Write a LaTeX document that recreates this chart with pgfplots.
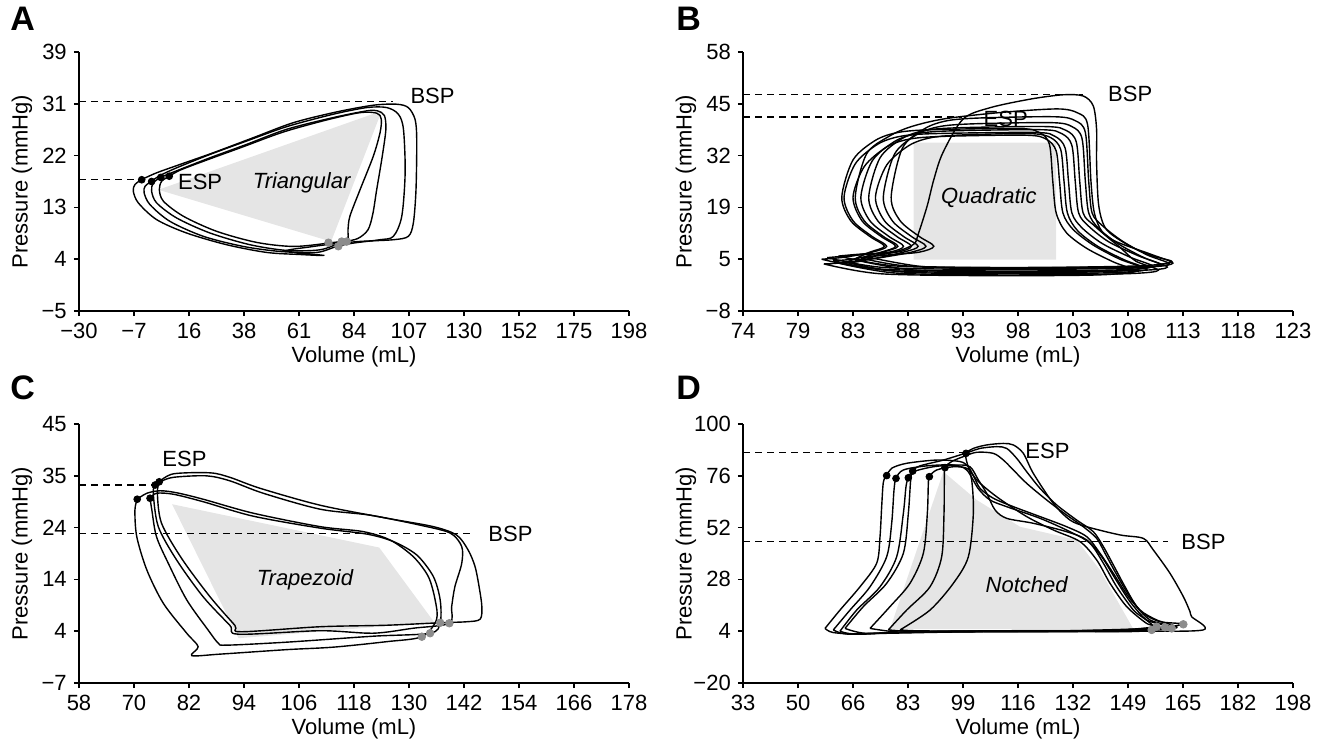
\documentclass[border=0pt]{standalone}
\usepackage{fontspec}
\setmainfont{Liberation Sans}
\usepackage{pgfplots}
\pgfplotsset{compat=1.18}
\newcommand{\lbl}{\fontsize{11}{13}\selectfont}
\pgfplotsset{
  pv/.style={
    width=275pt, height=129.5pt, scale only axis, anchor=south west,
    axis x line*=bottom, axis y line*=left,
    axis line style={-, line width=0.75pt},
    tick align=outside, major tick length=2.6pt,
    tick style={line width=0.75pt, black},
    tick label style={font=\lbl},
    label style={font=\lbl},
    xlabel={Volume (mL)}, ylabel={Pressure (mmHg)},
    xlabel style={at={(axis description cs:0.5,-0.175)}, anchor=center},
    ylabel style={at={(axis description cs:-0.1036,0.5)}, anchor=center},
    clip=false,
  },
  lp/.style={black, line width=0.7pt, smooth, tension=0.5, mark=none},
  dsh/.style={black, line width=0.7pt, dash pattern=on 3.5pt off 2.5pt, mark=none},
  esp/.style={only marks, mark=*, mark size=1.7pt, black},
  edp/.style={only marks, mark=*, mark size=1.9pt, color=black!45, mark options={draw=black!45, fill=black!45}},
  shp/.style={fill=black!10, draw=none, mark=none},
}
\begin{document}
\begin{tikzpicture}
\path[use as bounding box] (0,0) rectangle (665.5pt,370.5pt);

% ---------------- A ----------------
\begin{axis}[pv, at={(39.5pt,215pt)},
  xmin=-30, xmax=198, ymin=-5, ymax=39,
  xtick={-30,-7.2,15.6,38.4,61.2,84,106.8,129.6,152.4,175.2,198},
  xticklabels={−30,−7,16,38,61,84,107,130,152,175,198},
  ytick={-5,3.8,12.6,21.4,30.2,39},
  yticklabels={−5,4,13,22,31,39}]
\addplot[shp] coordinates {(2.9,15.6) (95.5,29.0) (74.5,6.8) (2.9,15.6)};
\addplot[lp] coordinates {(-4.0,17.34) (-6.8,16.49) (-7.5,15.35) (-5.4,13.36) (2.2,10.52) (14.6,8.25) (31.2,6.26) (47.8,4.95) (61.6,4.6) (71.3,4.45) (56,5.2) (66,5.9) (75.4,6.4) (86.5,6.82) (100.3,7.11) (106.5,7.68) (108.6,9.95) (109.7,15.63) (110.0,24.16) (109.3,27.57) (106.5,29.56) (101.7,30.13) (92.0,29.96) (76.8,28.82) (58.9,27.0) (42.3,24.45) (25.7,21.89) (11.9,19.9) (2.2,18.48) (-4.0,17.34)};
\addplot[lp] coordinates {(0.1,17.06) (-2.6,16.2) (-3.0,15.07) (-0.6,13.08) (7.7,10.23) (21.6,7.68) (38.1,5.97) (53.3,5.12) (68.5,4.95) (76.8,5.97) (83.7,6.54) (94.8,7.11) (100.3,7.68) (103.8,11.09) (105.2,18.48) (104.5,25.87) (102.4,28.43) (97.6,29.56) (89.3,29.56) (75.4,28.43) (56.1,26.32) (39.5,23.88) (24.3,21.6) (10.5,19.33) (3.6,18.02) (0.1,17.06)};
\addplot[lp] coordinates {(3.9,17.74) (0.8,16.77) (0.1,15.35) (2.2,13.36) (10.5,10.8) (24.3,8.25) (40.9,6.26) (56.1,5.29) (69.9,5.4) (78.9,6.65) (85.5,7.3) (89.8,8.8) (91.8,11.5) (93.4,15.6) (95.6,21.0) (97.2,25.8) (96.6,28.2) (93.8,29.0) (89.3,29.0) (75.4,27.86) (56.1,25.87) (39.5,23.31) (24.3,21.03) (11.9,19.05) (3.9,17.74)};
\addplot[lp] coordinates {(7.5,17.91) (4.3,17.06) (3.3,15.63) (5.0,13.65) (13.3,11.09) (27.1,8.53) (43.7,6.65) (58.9,5.97) (73.4,6.54) (81.0,7.11) (81.5,8.8) (82.3,11.1) (86.5,15.6) (92.0,21.3) (94.8,25.3) (95.3,27.6) (93.5,28.6) (86.5,28.7) (72.7,27.46) (54.7,25.41) (38.1,22.91) (22.9,20.64) (11.9,18.93) (7.5,17.91)};
\addplot[dsh] coordinates {(-30,30.6) (100.2,30.6)};
\addplot[dsh] coordinates {(-30,17.3) (-4,17.3)};
\addplot[esp] coordinates {(-4.0,17.3) (0.1,17.0) (3.9,17.7) (7.4,17.9)};
\addplot[edp] coordinates {(73.4,6.6) (77.5,6.0) (78.9,6.8) (81.0,6.8)};
\node[font=\lbl, anchor=west] at (axis cs:104.5,31.6) {BSP};
\node[font=\lbl] at (axis cs:20.2,16.9) {ESP};
\node[font=\lbl\itshape] at (axis cs:62.3,16.8) {Triangular};
\end{axis}

% ---------------- B ----------------
\begin{axis}[pv, at={(371.5pt,215pt)},
  xmin=74, xmax=123, ymin=-8, ymax=58,
  xtick={74,78.9,83.8,88.7,93.6,98.5,103.4,108.3,113.2,118.1,123},
  xticklabels={74,79,83,88,93,98,103,108,113,118,123},
  ytick={-8,5.2,18.4,31.6,44.8,58},
  yticklabels={−8,5,19,32,45,58}]
\addplot[shp] coordinates {(89.2,5.1) (101.9,5.1) (101.9,34.9) (89.2,34.9) (89.2,5.1)};
\addplot[lp] coordinates {(81.0,5.2) (86.0,2.7) (96,2.2) (104,2.3) (108.5,2.6) (110.5,3.4) (108.5,5.7) (106.0,9.2) (104.2,13.2) (103.3,17) (103.0,25) (102.7,33.5) (101.8,36.5) (100.0,37.5) (91.0,37.2) (88.0,36.5) (86.0,34.5) (84.0,29.5) (83.0,21) (83.8,15) (85.5,11) (86.8,8.5) (85.5,7) (83.0,5.7) (81.0,5.2)};
\addplot[lp] coordinates {(82.0,4.8) (87.0,2.3) (96,1.8) (104,1.9) (107.5,2.2) (109.5,3.0) (107.5,5.3) (105.2,8.8) (103.4,12.8) (102.5,17) (102.2,25) (101.9,32.8) (101.0,35.8) (99.2,36.8) (91.8,36.5) (88.8,35.8) (86.8,33.8) (84.8,28.8) (83.8,21) (84.6,15) (86.3,11) (87.6,8.5) (86.3,7) (84.0,5.3) (82.0,4.8)};
\addplot[lp] coordinates {(81.5,5.6) (86.5,3.1) (96,2.6) (104,2.7) (109.2,3.0) (111.2,3.8) (109.2,6.1) (106.6,9.6) (104.8,13.6) (103.9,17) (103.6,25) (103.3,34.2) (102.4,37.2) (100.6,38.2) (92.5,37.9) (89.5,37.2) (87.5,35.2) (85.5,30.2) (84.5,21) (85.3,15) (87.0,11) (88.3,8.5) (87.0,7) (83.5,6.1) (81.5,5.6)};
\addplot[lp] coordinates {(82.5,6.0) (87.5,3.5) (96,3.0) (104,3.1) (110.3,3.4) (112.3,4.2) (110.3,6.5) (107.0,10.0) (105.2,14.0) (104.3,17) (104.0,25) (103.7,35.0) (102.8,38.0) (101.0,39.0) (93.2,38.7) (90.2,38.0) (88.2,36.0) (86.2,31.0) (85.2,21) (86.0,15) (87.7,11) (89.0,8.5) (87.7,7) (84.5,6.5) (82.5,6.0)};
\addplot[lp] coordinates {(83.0,4.5) (88.0,2.0) (96,1.5) (104,1.6) (108.0,1.9) (110.0,2.7) (108.0,5.0) (105.6,8.5) (103.8,12.5) (102.9,17) (102.6,25) (102.3,33.2) (101.4,36.2) (99.6,37.2) (93.8,36.9) (90.8,36.2) (88.8,34.2) (86.8,29.2) (85.8,21) (86.6,15) (88.3,11) (89.6,8.5) (88.3,7) (85.0,5.0) (83.0,4.5)};
\addplot[lp] coordinates {(84.0,5.0) (89.0,2.5) (96,2.0) (104,2.1) (109.8,2.4) (111.8,3.2) (109.8,5.5) (107.5,9.0) (105.7,13.0) (104.8,17) (104.5,25) (104.2,36.0) (103.3,39.0) (101.5,40.0) (94.5,39.7) (91.5,39.0) (89.5,37.0) (87.5,32.0) (86.5,21) (87.3,15) (89.0,11) (90.3,8.5) (89.0,7) (86.0,5.5) (84.0,5.0)};
\addplot[lp] coordinates {(85.0,5.8) (90.0,3.3) (96,2.8) (104,2.9) (110.0,3.2) (112.0,4.0) (110.0,6.3) (107.8,9.8) (106.0,13.8) (105.1,17) (104.8,25) (104.5,37.5) (103.6,40.5) (101.8,41.5) (95.2,41.2) (92.2,40.5) (90.2,38.5) (88.2,33.5) (87.2,21) (88.0,15) (89.7,11) (91.0,8.5) (89.7,7) (87.0,6.3) (85.0,5.8)};
\addplot[lp] coordinates {(82.5,4.2) (87.5,1.7) (96,1.2) (104,1.3) (109.0,1.6) (111.0,2.4) (109.0,4.7) (107.6,8.2) (106.0,12.2) (105.3,17) (105.0,25) (104.7,39.5) (103.8,42.5) (102.0,43.5) (97.0,42.6) (92.0,41.0) (89.0,39.0) (87.0,36.5) (85.0,32.0) (84.0,21) (84.8,15) (86.5,11) (87.8,8.5) (86.5,7) (84.5,4.7) (82.5,4.2)};
\addplot[lp] coordinates {(84.5,5.5) (88.5,3.5) (96,3.1) (104,3.2) (110.0,3.6) (112.2,4.6) (110.5,6.0) (108.5,8.5) (106.4,12.7) (105.7,18.7) (105.5,29.8) (105.5,38.3) (105.2,44.3) (104.3,46.8) (102.5,47.1) (99.6,46.0) (96.0,43.8) (93.6,40.9) (91.8,32.3) (91.0,25.5) (90.4,18.7) (89.6,11.5) (89.2,9.0) (87.5,7.0) (84.5,5.5)};
\addplot[lp] coordinates {(81.2,4.0) (86.2,1.5) (96,1.0) (104,1.1) (107.0,1.4) (109.0,2.2) (107.0,4.5) (104.6,8.0) (102.8,12.0) (101.9,17) (101.6,25) (101.3,34.5) (100.4,37.5) (98.6,38.5) (90.8,38.2) (87.8,37.5) (85.8,35.5) (83.8,30.5) (82.8,21) (83.6,15) (85.3,11) (86.6,8.5) (85.3,7) (83.2,4.5) (81.2,4.0)};
\addplot[dsh] coordinates {(74,47.1) (104.3,47.1)};
\addplot[dsh] coordinates {(74,41.45) (93.5,41.45)};
\node[font=\lbl] at (axis cs:108.5,47.3) {BSP};
\node[font=\lbl] at (axis cs:97.4,40.9) {ESP};
\node[font=\lbl\itshape] at (axis cs:95.9,20.8) {Quadratic};
\end{axis}

% ---------------- C ----------------
\begin{axis}[pv, at={(39.5pt,29pt)},
  xmin=58, xmax=178, ymin=-7, ymax=45,
  xtick={58,70,82,94,106,118,130,142,154,166,178},
  xticklabels={58,70,82,94,106,118,130,142,154,166,178},
  ytick={-7,3.4,13.8,24.2,34.6,45},
  yticklabels={−7,4,14,24,35,45}]
\addplot[shp] coordinates {(78.3,28.9) (123.5,20.2) (135.5,5.2) (92.8,2.0) (78.3,28.9)};
\addplot[lp] coordinates {(75.5,33.4) (75.1,31.1) (76.0,25.1) (80.4,18.0) (86.6,10.3) (92.0,4.6) (93.3,3.3) (110.6,4.3) (125.1,4.6) (136.8,5.1) (142.6,5.3) (145.5,5.8) (145.9,8.3) (145.3,12.3) (144.4,16.4) (142.9,19.7) (140.4,22.7) (135.3,24.4) (125.1,26.1) (110.6,28.7) (97.5,32.1) (90.9,34.3) (86.6,35.2) (78.6,35.0) (75.5,33.4)};
\addplot[lp] coordinates {(74.6,32.75) (74.2,31.1) (75.3,24.4) (79.3,17.7) (85.1,10.3) (90.9,4.6) (92.8,2.8) (110.6,3.5) (122.2,3.0) (130.9,4.0) (138.8,5.0) (139.3,8.3) (140.0,12.3) (141.5,17.0) (141.5,20.4) (139.0,23.1) (132.4,24.7) (121.5,26.7) (110.6,27.9) (98.2,31.1) (90.9,33.6) (85.8,34.6) (78.6,34.3) (75.7,33.4) (74.6,32.75)};
\addplot[lp] coordinates {(70.7,29.9) (70.2,27.7) (70.6,22.4) (72.8,15.7) (76.4,9.0) (81.5,3.0) (84.0,0.3) (82.6,-1.5) (88.8,-1.2) (103.3,-0.3) (113.5,0.2) (125.1,1.3) (132.8,2.3) (136.0,5.7) (135.7,9.7) (134.2,14.4) (130.9,18.4) (125.9,21.7) (120.0,23.4) (110.6,24.4) (96.0,27.1) (85.1,29.9) (79.3,31.2) (75.7,31.6) (72.8,31.1) (70.7,29.9)};
\addplot[lp] coordinates {(73.5,30.1) (73.9,27.7) (74.9,22.4) (77.5,17.0) (81.5,9.7) (86.2,3.6) (88.4,1.0) (90.2,0.6) (103.3,1.2) (122.2,2.4) (134.6,3.0) (136.8,5.1) (136.8,9.7) (135.3,14.4) (131.7,18.7) (126.6,21.4) (120.8,22.9) (110.6,24.1) (96.0,26.5) (85.1,29.4) (78.6,30.9) (74.9,31.1) (73.5,30.1)};
\addplot[dsh] coordinates {(58,32.75) (74.6,32.75)};
\addplot[dsh] coordinates {(58,23.05) (143.6,23.05)};
\addplot[esp] coordinates {(70.7,29.9) (73.5,30.1) (74.6,32.75) (75.5,33.4)};
\addplot[edp] coordinates {(136.8,5.1) (138.8,5.0) (132.8,2.3) (134.6,3.0)};
\node[font=\lbl] at (axis cs:81.0,37.9) {ESP};
\node[font=\lbl, anchor=west] at (axis cs:145.8,22.9) {BSP};
\node[font=\lbl\itshape] at (axis cs:107.3,13.7) {Trapezoid};
\end{axis}

% ---------------- D ----------------
\begin{axis}[pv, at={(371.5pt,29pt)},
  xmin=33, xmax=198, ymin=-20, ymax=100,
  xtick={33,49.5,66,82.5,99,115.5,132,148.5,165,181.5,198},
  xticklabels={33,50,66,83,99,116,132,149,165,182,198},
  ytick={-20,4,28,52,76,100},
  yticklabels={−20,4,28,52,76,100}]
\addplot[shp] coordinates {(77.1,5.0) (93.1,77.9) (103.1,64.8) (116.1,52.4) (133.1,46.3) (140.1,32.3) (150.1,5.0) (77.1,5.0)};
\addplot[lp] coordinates {(57.6,5.3) (62.1,13.8) (68.1,24.6) (73.1,35.5) (74.1,47.8) (74.6,61.7) (75.1,73.0) (76.1,76.1) (77.6,79.5) (82.1,81.8) (91.1,83.3) (98.1,82.6) (100.6,80.2) (103.1,74.1) (109.1,66.3) (118.1,57.1) (126.1,50.9) (134.1,45.5) (139.1,37.0) (143.1,26.2) (148.1,15.4) (154.1,7.6) (157.1,6.1) (140,4.0) (110,3.8) (80,3.4) (68,2.6) (60,3.4) (57.6,5.3)};
\addplot[lp] coordinates {(60.1,4.6) (65.1,13.8) (71.1,24.6) (76.1,38.5) (77.6,54.0) (78.3,69.4) (78.9,74.8) (81.1,78.7) (88.1,80.6) (96.1,81.0) (100.1,78.7) (103.6,70.0) (107.1,64.8) (112.1,61.7) (122.1,56.3) (131.1,50.1) (137.1,44.7) (141.1,35.5) (145.1,24.6) (150.1,13.8) (155.6,4.6) (130,3.9) (100,3.7) (75,3.0) (64,2.7) (60.1,4.6)};
\addplot[lp] coordinates {(62.1,4.0) (67.1,13.8) (74.1,24.6) (79.1,38.5) (81.1,58.6) (81.9,71.0) (82.6,75.1) (84.1,77.9) (90.1,80.2) (97.1,81.0) (101.1,80.2) (103.6,74.1) (106.1,67.9) (108.6,60.2) (112.1,56.3) (120.1,54.0) (130.1,50.1) (136.1,46.3) (140.6,38.5) (144.6,28.5) (149.1,17.7) (154.1,9.2) (159.6,5.8) (130,4.2) (100,4.0) (78,3.4) (66,2.8) (62.1,4.0)};
\addplot[lp] coordinates {(63.6,5.3) (69.1,15.4) (76.1,26.2) (81.1,40.1) (82.6,58.6) (83.3,74.1) (83.9,78.2) (86.1,80.6) (93.1,83.3) (100.6,86.9) (104.1,88.7) (109.1,89.5) (112.1,88.7) (115.1,84.1) (118.1,77.9) (122.1,70.2) (127.1,62.5) (133.1,55.5) (138.1,50.1) (141.1,43.2) (144.1,34.7) (147.6,24.6) (151.1,15.4) (155.1,9.2) (161.6,5.3) (140,4.3) (110,4.1) (85,3.8) (70,3.0) (63.6,5.3)};
\addplot[lp] coordinates {(71.1,5.3) (77.1,15.4) (83.1,26.2) (87.1,40.1) (88.3,58.6) (88.6,72.5) (88.9,75.6) (91.1,78.7) (96.1,80.2) (100.1,79.5) (102.1,76.0) (104.1,70.2) (108.1,65.6) (114.1,61.7) (122.1,57.1) (130.1,52.4) (136.1,47.8) (140.1,40.1) (144.1,30.8) (148.6,20.0) (153.1,12.3) (158.1,8.4) (165.1,7.2) (150,4.5) (120,4.3) (95,4.0) (80,3.6) (71.1,5.3)};
\addplot[lp] coordinates {(76.6,4.6) (82.1,13.8) (89.1,24.6) (92.6,38.5) (93.3,58.6) (93.4,74.1) (93.6,79.8) (95.6,82.6) (99.1,84.9) (103.1,86.9) (108.1,86.4) (111.1,83.3) (114.1,78.7) (118.1,72.5) (124.1,64.8) (130.1,57.8) (135.1,52.4) (139.1,47.0) (141.6,40.1) (144.6,31.6) (148.1,22.3) (152.1,13.8) (157.1,9.2) (163.1,5.6) (150,4.2) (120,4.0) (100,3.8) (85,3.8) (76.6,4.6)};
\addplot[lp] coordinates {(80.1,4.6) (89.1,13.8) (96.1,26.2) (100.6,38.5) (102.1,58.6) (101.6,74.1) (100.1,82.6) (99.9,86.4) (102.1,88.7) (106.1,90.3) (111.1,91.0) (114.1,90.3) (117.1,86.4) (120.1,77.1) (126.1,63.2) (131.1,55.5) (136.1,52.4) (146.1,48.6) (153.1,47.0) (156.1,41.6) (161.1,30.8) (165.1,20.0) (167.1,13.05) (167.6,10.7) (171.1,4.6) (150,4.0) (120,3.9) (100,4.0) (85,4.2) (80.1,4.6)};
\addplot[dsh] coordinates {(33,86.7) (100.1,86.7)};
\addplot[dsh] coordinates {(33,45.5) (160.6,45.5)};
\addplot[esp] coordinates {(76.1,76.1) (78.9,74.8) (82.6,75.1) (83.9,78.2) (88.9,75.6) (93.6,79.8) (99.9,86.4)};
\addplot[edp] coordinates {(155.6,4.6) (157.1,6.1) (159.6,5.8) (161.6,5.3) (165.1,7.2)};
\node[font=\lbl, anchor=west] at (axis cs:115.6,87.4) {ESP};
\node[font=\lbl, anchor=west] at (axis cs:162.4,45.5) {BSP};
\node[font=\lbl\itshape] at (axis cs:118.1,25.4) {Notched};
\end{axis}

\node[anchor=base west, font=\fontsize{17}{19}\selectfont\bfseries, inner sep=0pt] at (5pt,355pt) {A};
\node[anchor=base west, font=\fontsize{17}{19}\selectfont\bfseries, inner sep=0pt] at (338pt,355pt) {B};
\node[anchor=base west, font=\fontsize{17}{19}\selectfont\bfseries, inner sep=0pt] at (5pt,171pt) {C};
\node[anchor=base west, font=\fontsize{17}{19}\selectfont\bfseries, inner sep=0pt] at (338pt,171pt) {D};
\end{tikzpicture}
\end{document}
